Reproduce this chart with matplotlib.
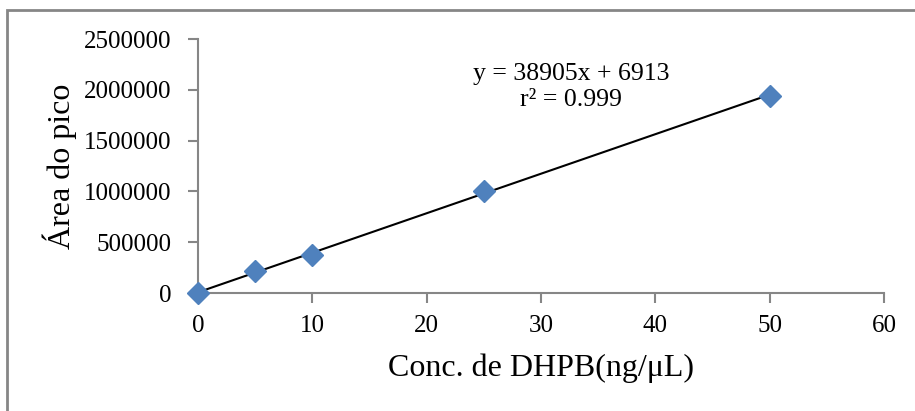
import matplotlib.pyplot as plt
from matplotlib.patches import Rectangle
import numpy as np

# calibration data
conc = [0, 5, 10, 25, 50]
area = [0, 216000, 374000, 1004000, 1939000]
slope = 38905
intercept = 6913
eq_text = 'y = 38905x + 6913\nr² = 0.999'

xticks = [0, 10, 20, 30, 40, 50, 60]
yticks = [0, 500000, 1000000, 1500000, 2000000, 2500000]

plt.rcParams['font.family'] = ['Liberation Serif', 'DejaVu Serif']
W, H = 915, 411
fig = plt.figure(figsize=(W / 100, H / 100), dpi=100)

# outer chart border (only top/left visible in the crop)
fig.patches.append(Rectangle((6.5 / W, 0 - 0.05), 1.1, 1 - 10 / H + 0.05,
                             transform=fig.transFigure, fill=False,
                             edgecolor='#868686', linewidth=2))

ax = fig.add_axes([198 / W, 1 - 293 / H, 686 / W, 254 / H])
ax.set_xlim(0, 60)
ax.set_ylim(0, 2500000)
ax.set_xticks(xticks)
ax.set_yticks(yticks)
ax.set_xticklabels([str(t) for t in xticks])
ax.set_yticklabels([str(t) for t in yticks])

for s in ['top', 'right']:
    ax.spines[s].set_visible(False)
for s in ['left', 'bottom']:
    ax.spines[s].set_color('#868686')
    ax.spines[s].set_linewidth(1.5)
ax.tick_params(colors='#868686', labelcolor='black', length=7, width=1.5,
               labelsize=18)
ax.tick_params(axis='x', pad=9)
ax.tick_params(axis='y', pad=12)

xs = np.array([0, 50])
ax.plot(xs, slope * xs + intercept, color='black', linewidth=1.5, zorder=3)
ax.plot(conc, area, linestyle='none', marker='D', markersize=11,
        color='#4F81BD', zorder=4, clip_on=False)

ax.text(571 / W, 1 - 87 / H, eq_text, transform=fig.transFigure,
        ha='center', va='center', fontsize=18.5, linespacing=1.25)

ax.set_xlabel('Conc. de DHPB(ng/μL)', fontsize=23, labelpad=12)
ax.set_ylabel('Área do pico', fontsize=23, labelpad=5)

fig.savefig('out.png', dpi=100)
